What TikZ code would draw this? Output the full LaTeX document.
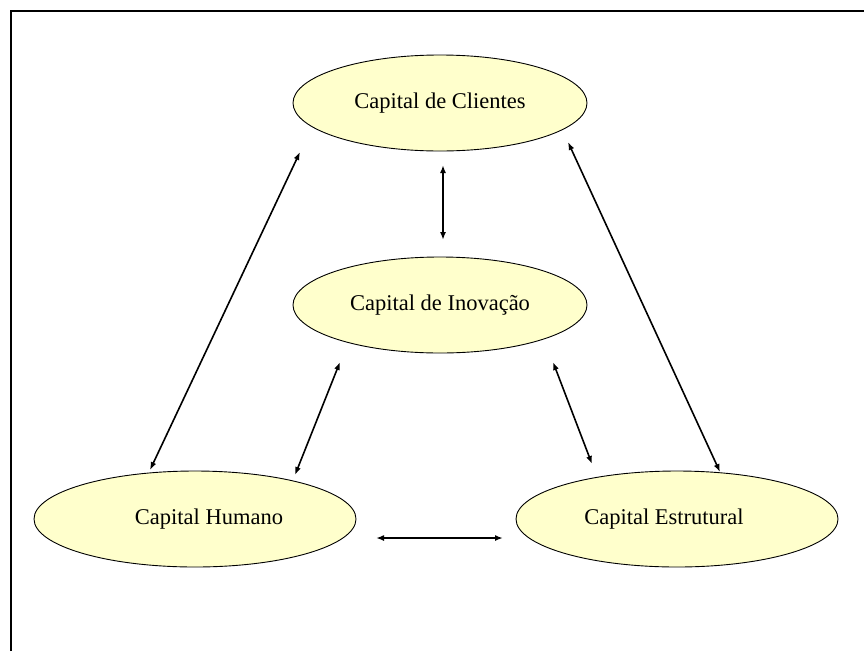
\documentclass[tikz,border=0pt]{standalone}
\usepackage{fontspec}
\setmainfont{Liberation Serif}
\usetikzlibrary{arrows.meta,shapes.geometric}
\definecolor{capfill}{HTML}{FFFFCC}
\tikzset{
  capital/.style={ellipse, draw=black, line width=0.9pt, fill=capfill,
    minimum width=294pt, minimum height=96pt, inner sep=0pt, font=\fontsize{22.5}{26}\selectfont},
  link/.style={line width=1.6pt, {Latex[length=8pt,width=6pt]}-{Latex[length=8pt,width=6pt]}},
  frame/.style={line width=2pt}
}
\begin{document}
\begin{tikzpicture}[x=1pt,y=-1pt]
  \useasboundingbox (0,0) rectangle (864,651);
  % page frame (top and left edges)
  \draw[frame] (11,651) -- (11,11) -- (864,11);

  \node[capital] (cli) at (440,103) {Capital de Clientes};
  \node[capital] (ino) at (440,305) {Capital de Inovação};
  \node[capital, minimum width=322pt] (hum) at (195,519) {\hspace*{28pt}Capital Humano};
  \node[capital, minimum width=322pt] (est) at (677,519) {Capital Estrutural\hspace*{26pt}};

  % arrow end points around the ellipses
  \coordinate (cliL) at (300,152);
  \coordinate (humT) at (150,470);
  \coordinate (cliR) at (568,142);
  \coordinate (estT) at (720,472);
  \coordinate (cliB) at (443,165);
  \coordinate (inoT) at (443,240);
  \coordinate (inoL) at (340,362);
  \coordinate (humR) at (295,475);
  \coordinate (inoR) at (553,362);
  \coordinate (estL) at (592,464);
  \coordinate (humE) at (376,538);
  \coordinate (estW) at (503,538);

  \draw[link] (cliL) -- (humT);
  \draw[link] (cliR) -- (estT);
  \draw[link] (cliB) -- (inoT);
  \draw[link] (inoL) -- (humR);
  \draw[link] (inoR) -- (estL);
  \draw[link] (humE) -- (estW);
\end{tikzpicture}
\end{document}
